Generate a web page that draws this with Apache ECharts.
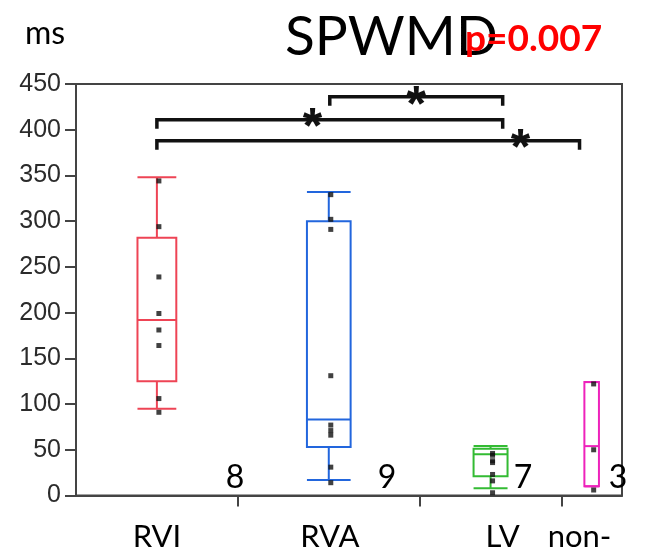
<!DOCTYPE html>
<html>
<head>
<meta charset="utf-8">
<script src="https://cdn.jsdelivr.net/npm/echarts@6/dist/echarts.min.js"></script>
<style>
  html, body { margin: 0; padding: 0; background: #fff; }
  #chart { width: 663px; height: 551px; }
</style>
</head>
<body>
<div id="chart"></div>
<script>
// groups and sample sizes (JMP draws each group as wide as its n)
const groups = ['RVI', 'RVA', 'LV', 'non-'];
const counts = [8, 9, 7, 3];
// box stats per group: [lower whisker, Q1, median, Q3, upper whisker]
const boxRVI = [95, 125, 192, 282, 348];
const boxRVA = [17, 53, 83, 300, 332];
const boxLV = [8, 21, 45, 51, 54];
const boxNon = [10, 10, 54, 124, 124];
// individual values (ms)
const pointsRVI = [344, 294, 239, 199, 181, 164, 106, 91];
const pointsRVA = [329, 302, 291, 131, 77, 71, 66, 31, 14];
const pointsLV = [46, 44, 38, 36, 23, 16, 3];
const pointsNon = [122, 50, 6];
// y axis
const yMin = 0, yMax = 450, yStep = 50;
// significant pairs (group indexes) and the level of each bracket in ms
const pairs = [[1, 2], [0, 2], [0, 3]];
const bracketLevels = [436, 411, 388];
const title = 'SPWMD';
const pText = 'p=0.007';
const unit = 'ms';

// layout / style
const colors = ['#EE4455', '#2266DD', '#33BB33', '#EE22BB'];
const LABEL_X = [4.0, 12.55, 21.1, 24.9];   // where the slide text sits, axis units
const COUNT_X = [7.86, 15.38, 22.1, 26.8];
const STAR_AT = [0.5, 0.45, 0.86];
const BOX_FRACTION = 0.24;

const boxes = [boxRVI, boxRVA, boxLV, boxNon];
const points = [pointsRVI, pointsRVA, pointsLV, pointsNon];
const total = counts.reduce((a, b) => a + b, 0);
const bounds = [];
const centers = [];
let acc = 0;
counts.forEach((n, i) => {
  centers.push(acc + n / 2);
  acc += n;
  if (i < counts.length - 1) bounds.push(acc);
});

const boxData = boxes.map((b, i) => [centers[i]].concat(b, [counts[i] * BOX_FRACTION / 2, i]));
const dotData = [];
points.forEach((arr, i) => arr.forEach(v => dotData.push([centers[i], v])));
const bracketData = pairs.map((p, i) => [LABEL_X[p[0]], LABEL_X[p[1]], bracketLevels[i], STAR_AT[i]]);
const countData = counts.map((n, i) => [COUNT_X[i], 20, n]);

const chart = echarts.init(document.getElementById('chart'));

chart.setOption({
  animation: false,
  title: [
    { text: title, left: 285, top: 10, padding: 0,
      textStyle: { fontFamily: 'Lato', fontSize: 55, fontWeight: 'normal', color: '#000' } },
    { text: pText, left: 465, top: 21, padding: 0,
      textStyle: { fontFamily: 'Lato', fontSize: 37, fontWeight: 'bold', color: '#FF0000' } },
    { text: unit, left: 25, top: 18, padding: 0,
      textStyle: { fontFamily: 'Lato', fontSize: 32, fontWeight: 'normal', color: '#000' } }
  ],
  grid: { left: 76, right: 41, top: 84, bottom: 55.5, show: true, borderColor: '#444', borderWidth: 2,
          outerBoundsMode: 'none' },
  xAxis: {
    type: 'value', min: 0, max: total,
    splitLine: { show: false },
    axisLine: { lineStyle: { color: '#444', width: 2 } },
    axisTick: { show: true, length: 11, customValues: bounds, lineStyle: { color: '#444', width: 2 } },
    axisLabel: {
      customValues: LABEL_X,
      margin: 26,
      fontFamily: 'Lato', fontSize: 31, color: '#000',
      formatter: v => {
        const i = LABEL_X.findIndex(x => Math.abs(x - v) < 1e-6);
        return i >= 0 ? groups[i] : '';
      }
    }
  },
  yAxis: {
    type: 'value', min: yMin, max: yMax, interval: yStep,
    splitLine: { show: false },
    axisLine: { show: true, lineStyle: { color: '#444', width: 2 } },
    axisTick: { show: true, length: 11, lineStyle: { color: '#444', width: 2 } },
    axisLabel: { margin: 15, fontFamily: 'Liberation Sans', fontSize: 25, color: '#2b2b2b' }
  },
  series: [
    {
      type: 'custom',
      data: boxData,
      encode: { x: 0, y: [1, 2, 3, 4, 5] },
      z: 2,
      renderItem: (params, api) => {
        const cx = api.value(0), hw = api.value(6);
        const col = colors[api.value(7)];
        const x = api.coord([cx, 0])[0];
        const l = api.coord([cx - hw, 0])[0];
        const r = api.coord([cx + hw, 0])[0];
        const y = k => api.coord([cx, api.value(k)])[1];
        const st = { stroke: col, lineWidth: 2, fill: null };
        return {
          type: 'group',
          children: [
            { type: 'rect', shape: { x: l, y: y(4), width: r - l, height: y(2) - y(4) }, style: st },
            { type: 'line', shape: { x1: l, y1: y(3), x2: r, y2: y(3) }, style: st },
            { type: 'line', shape: { x1: x, y1: y(4), x2: x, y2: y(5) }, style: st },
            { type: 'line', shape: { x1: x, y1: y(2), x2: x, y2: y(1) }, style: st },
            { type: 'line', shape: { x1: l, y1: y(5), x2: r, y2: y(5) }, style: st },
            { type: 'line', shape: { x1: l, y1: y(1), x2: r, y2: y(1) }, style: st }
          ]
        };
      }
    },
    {
      type: 'scatter',
      data: dotData,
      symbol: 'rect',
      symbolSize: 5,
      symbolOffset: [2, 0],
      itemStyle: { color: '#111' },
      z: 3
    },
    {
      type: 'custom',
      data: bracketData,
      encode: { x: [0, 1], y: 2 },
      z: 4,
      renderItem: (params, api) => {
        const a = api.coord([api.value(0), api.value(2)]);
        const b = api.coord([api.value(1), api.value(2)]);
        const drop = 9;
        const sx = a[0] + (b[0] - a[0]) * api.value(3);
        return {
          type: 'group',
          children: [
            { type: 'polyline',
              shape: { points: [[a[0], a[1] + drop], [a[0], a[1]], [b[0], b[1]], [b[0], b[1] + drop]] },
              style: { stroke: '#111', lineWidth: 3.5, fill: null } },
            { type: 'text',
              style: { text: '*', x: sx, y: a[1] + 10, align: 'center', verticalAlign: 'middle',
                       font: 'bold 50px "Liberation Sans"', fill: '#111' } }
          ]
        };
      }
    },
    {
      type: 'custom',
      data: countData,
      encode: { x: 0, y: 1 },
      z: 4,
      renderItem: (params, api) => {
        const p = api.coord([api.value(0), api.value(1)]);
        return {
          type: 'text',
          style: { text: String(api.value(2)), x: p[0], y: p[1], align: 'center', verticalAlign: 'middle',
                   font: '32px Lato', fill: '#000' }
        };
      }
    }
  ]
});
</script>
</body>
</html>
